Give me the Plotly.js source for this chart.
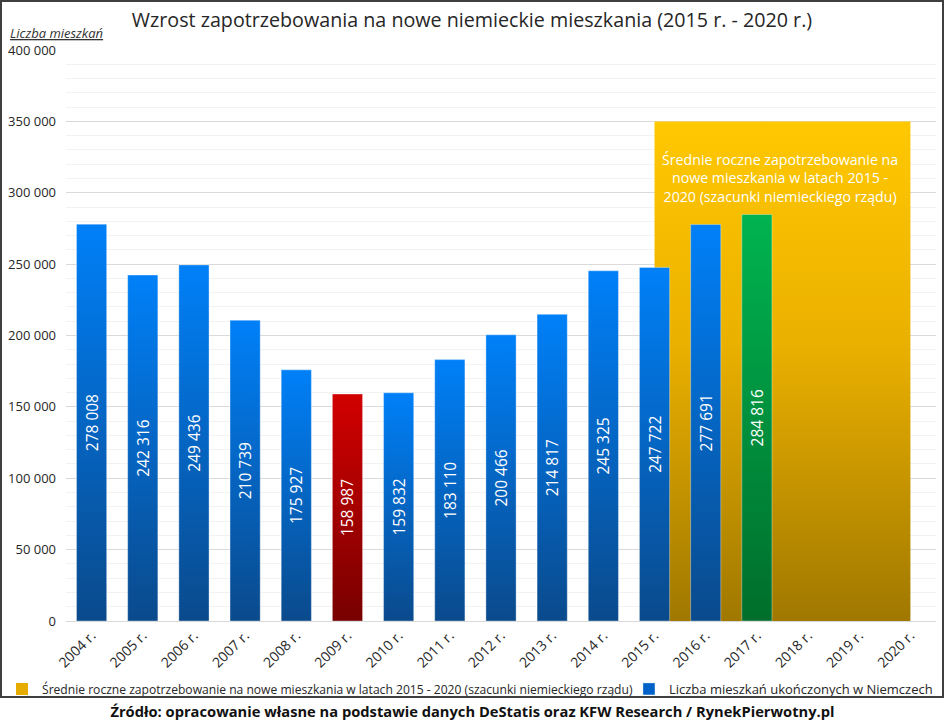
<!DOCTYPE html>
<html>
<head>
<meta charset="utf-8">
<script src="https://cdn.plot.ly/plotly-3.0.1.min.js"></script>
<style>
  body { margin: 0; background: #fff; font-family: "Open Sans", sans-serif; }
  #chart { position: absolute; left: 2px; top: 2px; width: 940px; height: 723px; }
  #frame { position: absolute; left: 0; top: 0; width: 940px; height: 694px; border: 2px solid #3f3f3f;
           z-index: 10; pointer-events: none; }
  #source { position: absolute; left: 0; top: 701px; width: 945px; text-align: center; z-index: 10;
            font-weight: bold; font-size: 14.7px; color: #111; }
</style>
</head>
<body>
<div id="chart"></div>
<div id="frame"></div>
<div id="source">Źródło: opracowanie własne na podstawie danych DeStatis oraz KFW Research / RynekPierwotny.pl</div>
<script>
// all years on the axis
var years = ['2004 r.', '2005 r.', '2006 r.', '2007 r.', '2008 r.', '2009 r.', '2010 r.', '2011 r.',
             '2012 r.', '2013 r.', '2014 r.', '2015 r.', '2016 r.', '2017 r.', '2018 r.', '2019 r.', '2020 r.']

// completed dwellings (2004 - 2017)
var builtYears = years.slice(0, 14)
var built = [278008, 242316, 249436, 210739, 175927, 158987, 159832, 183110,
             200466, 214817, 245325, 247722, 277691, 284816]

// government estimate of yearly demand 2015 - 2020
var demandYears = years.slice(11)
var demand = [350000, 350000, 350000, 350000, 350000, 350000]

var builtName = 'Liczba mieszkań ukończonych w Niemczech'
var demandName = 'Średnie roczne zapotrzebowanie na nowe mieszkania w latach 2015 - 2020 (szacunki niemieckiego rządu)'
var demandLabel = 'Średnie roczne zapotrzebowanie na<br>nowe mieszkania w latach 2015 -<br>2020 (szacunki niemieckiego rządu)'

// lowest year red, highest green, the rest blue
var minV = Math.min.apply(null, built)
var maxV = Math.max.apply(null, built)
var kind = built.map(function(v) { return v == minV ? 'red' : (v == maxV ? 'green' : 'blue') })
var solid = { blue: '#0062c8', red: '#b00000', green: '#009a40' }

var font = '"Open Sans", "Noto Sans", sans-serif'

var demandTrace = {
  x: demandYears,
  y: demand,
  type: 'scatter',
  mode: 'lines',
  line: { width: 0 },
  fill: 'tozeroy',
  fillgradient: {
    type: 'vertical',
    start: 0,
    stop: 350000,
    colorscale: [[0, '#a07800'], [0.55, '#eab000'], [1, '#ffc800']]
  },
  showlegend: false,
  xaxis: 'x',
  yaxis: 'y'
}

// only there for the legend square (no visible bar)
var demandKey = {
  x: [demandYears[0]],
  y: [null],
  type: 'bar',
  name: demandName,
  marker: { color: '#e6ad00' },
  legend: 'legend',
  xaxis: 'x',
  yaxis: 'y'
}

var builtTrace = {
  x: builtYears,
  y: built,
  type: 'bar',
  name: builtName,
  marker: {
    color: kind.map(function(k) { return solid[k] }),
    line: { color: 'rgba(255,255,255,0.35)', width: 1 }
  },
  texttemplate: '%{y:,d}',
  textposition: 'inside',
  insidetextanchor: 'middle',
  textangle: -90,
  textfont: { color: '#ffffff', size: 15.5, family: font },
  legend: 'legend2',
  xaxis: 'x',
  yaxis: 'y2'
}

var data = [demandTrace, demandKey, builtTrace]

var layout = {
  width: 940,
  height: 723,
  margin: { l: 64, r: 6, t: 48, b: 104 },
  paper_bgcolor: '#ffffff',
  plot_bgcolor: '#ffffff',
  separators: '. ',
  font: { family: font, color: '#262626', size: 13 },
  title: {
    text: 'Wzrost zapotrzebowania na nowe niemieckie mieszkania (2015 r. - 2020 r.)',
    x: 0.5, xanchor: 'center',
    y: 0.9751, yanchor: 'middle',
    font: { size: 19.7, color: '#262626', family: font }
  },
  barmode: 'overlay',
  bargap: 0.41,
  xaxis: {
    type: 'category',
    categoryorder: 'array',
    categoryarray: years,
    range: [-0.5, 16.5],
    automargin: false,
    tickangle: -45,
    showgrid: false,
    showline: true,
    linecolor: '#d9d9d9',
    linewidth: 1,
    ticks: '',
    tickfont: { size: 14, color: '#262626' }
  },
  yaxis: {
    range: [0, 400000],
    dtick: 50000,
    tickformat: ',d',
    automargin: false,
    ticklabelstandoff: 9,
    gridcolor: '#dadada',
    gridwidth: 1,
    zeroline: false,
    ticks: '',
    tickfont: { size: 13, color: '#262626' },
    minor: { dtick: 10000, showgrid: true, gridcolor: '#f2f2f2', gridwidth: 1 }
  },
  yaxis2: {
    overlaying: 'y',
    range: [0, 400000],
    visible: false,
    showgrid: false
  },
  legend: {
    orientation: 'h',
    xref: 'container', yref: 'container',
    x: 0, xanchor: 'left',
    y: 0.0498, yanchor: 'middle',
    font: { size: 12.1, color: '#262626' },
    bgcolor: 'rgba(0,0,0,0)'
  },
  legend2: {
    orientation: 'h',
    xref: 'container', yref: 'container',
    x: 0.9957, xanchor: 'right',
    y: 0.0498, yanchor: 'middle',
    font: { size: 13, color: '#262626' },
    bgcolor: 'rgba(0,0,0,0)'
  },
  annotations: [
    {
      text: '<i><span style="text-decoration:underline">Liczba mieszkań</span></i>',
      xref: 'paper', yref: 'paper',
      x: -0.0667, xanchor: 'left',
      y: 1.03, yanchor: 'middle',
      showarrow: false,
      font: { size: 13, color: '#333333' }
    },
    {
      text: demandLabel,
      xref: 'x', yref: 'y',
      x: 13.45, y: 310000,
      showarrow: false,
      align: 'center',
      font: { size: 14.2, color: '#ffffff' }
    }
  ]
}

var grads = {
  blue: ['#0080f8', '#0a4a8c'],
  red: ['#d20000', '#780000'],
  green: ['#00b450', '#006e2c']
}

Plotly.newPlot('chart', data, layout, { staticPlot: true }).then(function(gd) {
  // vertical gradient on each bar, like the original
  var ns = 'http://www.w3.org/2000/svg'
  var defs = gd.querySelector('.main-svg defs')
  Object.keys(grads).forEach(function(k) {
    var g = document.createElementNS(ns, 'linearGradient')
    g.setAttribute('id', 'grad-' + k)
    g.setAttribute('x1', '0'); g.setAttribute('y1', '0')
    g.setAttribute('x2', '0'); g.setAttribute('y2', '1')
    grads[k].forEach(function(c, i) {
      var s = document.createElementNS(ns, 'stop')
      s.setAttribute('offset', i == 0 ? '0' : '1')
      s.setAttribute('stop-color', c)
      g.appendChild(s)
    })
    defs.appendChild(g)
  })

  gd.querySelectorAll('.trace.bars').forEach(function(tr) {
    var cd = tr.__data__
    if (!cd || !cd[0] || cd[0].trace.name != builtName) return
    tr.querySelectorAll('.point').forEach(function(pt) {
      var i = pt.__data__ ? pt.__data__.i : null
      var path = pt.querySelector('path')
      if (i == null || !path) return
      path.style.fill = 'url(#grad-' + kind[i] + ')'
    })
  })
})
</script>
</body>
</html>
